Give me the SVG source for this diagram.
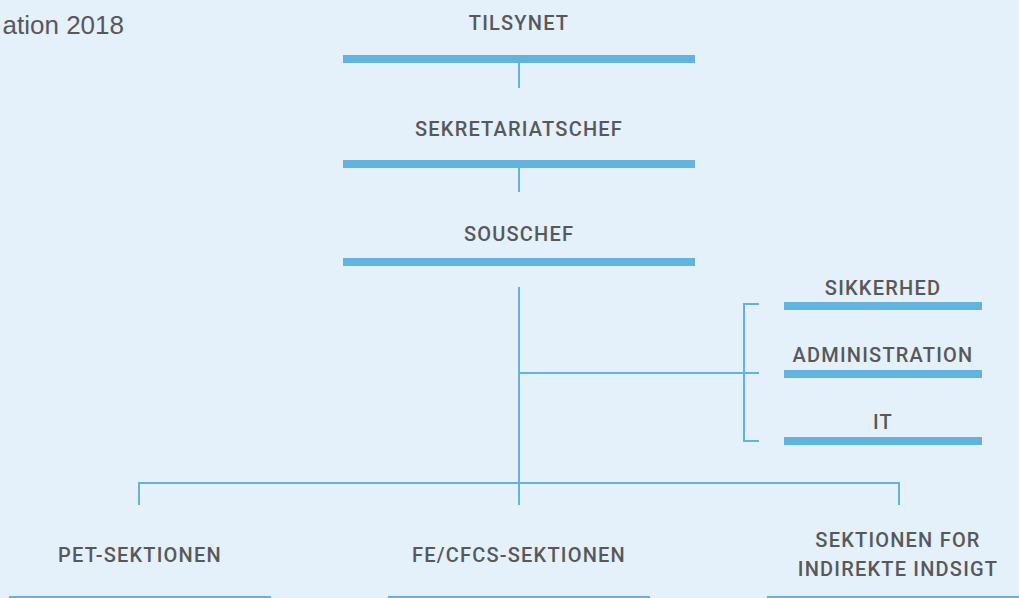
<svg xmlns="http://www.w3.org/2000/svg" width="1019" height="598" viewBox="0 0 1019 598">
<style>
.bg{fill:#e4f0fa}
.bar{fill:#62b4df}
.lbl{font-family:Roboto,"Liberation Sans",Arial,sans-serif;font-size:20px;font-weight:500;fill:#58585a;text-anchor:middle;letter-spacing:1.2px}
.title{font-family:"Liberation Sans",Arial,sans-serif;font-size:26px;fill:#58585a;text-anchor:end}
.con{stroke:#62b4df;stroke-width:2;fill:none}
</style>
<rect class="bg" x="0" y="0" width="1019" height="598"/>
<text class="title" x="124" y="34">ation 2018</text>
<g id="connectors">
<line class="con" x1="519" y1="63" x2="519" y2="88"/>
<line class="con" x1="519" y1="168" x2="519" y2="192"/>
<line class="con" x1="519" y1="287" x2="519" y2="505"/>
<line class="con" x1="519" y1="373" x2="759" y2="373"/>
<polyline class="con" points="759,304 744,304 744,441 759,441"/>
<line class="con" x1="139" y1="483" x2="899" y2="483"/>
<line class="con" x1="139" y1="482" x2="139" y2="505"/>
<line class="con" x1="899" y1="482" x2="899" y2="505"/>
</g>
<g id="tilsynet">
<text class="lbl" x="519" y="30">TILSYNET</text>
<rect class="bar" x="343" y="55" width="352" height="8"/>
</g>
<g id="sekretariatschef">
<text class="lbl" x="519" y="136">SEKRETARIATSCHEF</text>
<rect class="bar" x="343" y="160" width="352" height="8"/>
</g>
<g id="souschef">
<text class="lbl" x="519" y="241">SOUSCHEF</text>
<rect class="bar" x="343" y="258" width="352" height="8"/>
</g>
<g id="sikkerhed">
<text class="lbl" x="883" y="295">SIKKERHED</text>
<rect class="bar" x="784" y="302" width="198" height="8"/>
</g>
<g id="administration">
<text class="lbl" x="883" y="361.5">ADMINISTRATION</text>
<rect class="bar" x="784" y="370" width="198" height="8"/>
</g>
<g id="it">
<text class="lbl" x="883" y="429">IT</text>
<rect class="bar" x="784" y="437" width="198" height="8"/>
</g>
<g id="pet-sektionen">
<text class="lbl" x="140" y="561.5">PET-SEKTIONEN</text>
<rect class="bar" x="9" y="596" width="262" height="8"/>
</g>
<g id="fe-cfcs-sektionen">
<text class="lbl" x="519" y="561.5">FE/CFCS-SEKTIONEN</text>
<rect class="bar" x="388" y="596" width="262" height="8"/>
</g>
<g id="sektionen-for-indirekte-indsigt">
<text class="lbl" x="898" y="547">SEKTIONEN FOR</text>
<text class="lbl" x="898" y="575.5">INDIREKTE INDSIGT</text>
<rect class="bar" x="767" y="596" width="262" height="8"/>
</g>
</svg>
